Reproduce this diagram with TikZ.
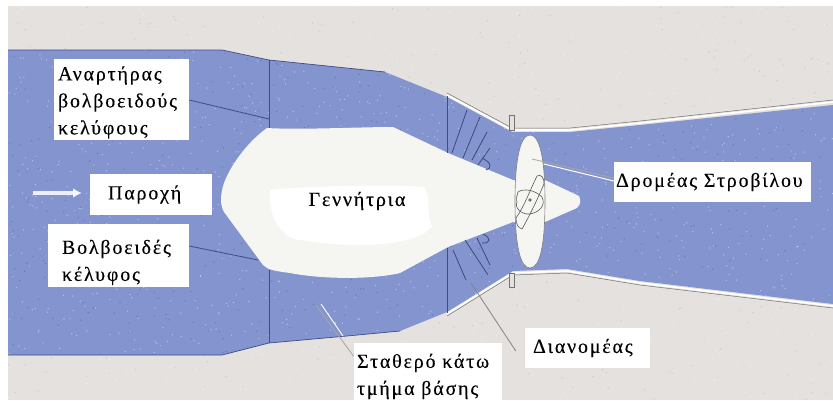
\documentclass[tikz,border=0pt]{standalone}
\usepackage{fontspec}
\usetikzlibrary{arrows.meta}
\setmainfont[LetterSpace=9,FakeBold=0.2]{Liberation Serif}
\definecolor{ductblue}{HTML}{8394CE}
\definecolor{paper}{HTML}{E4E1DE}
\definecolor{core}{HTML}{F5F5F2}
\definecolor{edge}{HTML}{3F4C86}
\definecolor{leader}{HTML}{A9A59F}
\tikzset{
  labelbox/.style={fill=white,inner ysep=0pt,align=left,font=\fontsize{20}{27}\selectfont,anchor=center},
  darkline/.style={draw=edge,line width=0.8pt},
  blade/.style={draw=edge!85!black,line width=0.7pt},
  rotorline/.style={draw=black!65,line width=0.6pt},
  lightleader/.style={draw=leader,line width=0.8pt}
}
\begin{document}
\begin{tikzpicture}[x=1pt,y=-1pt]
\useasboundingbox (0,0) rectangle (833,400);
\fill[white] (0,0) rectangle (833,400);
\fill[paper] (8,6) rectangle (833,400);
\pgfmathsetseed{11}
\foreach \i in {1,...,900}{
  \pgfmathsetmacro{\px}{8+825*rnd}
  \pgfmathsetmacro{\py}{6+394*rnd}
  \fill[white,opacity=0.4] (\px,\py) circle (0.8);
}
\foreach \i in {1,...,500}{
  \pgfmathsetmacro{\px}{8+825*rnd}
  \pgfmathsetmacro{\py}{6+394*rnd}
  \fill[black,opacity=0.08] (\px,\py) circle (0.8);
}
% duct
\def\ductpath{(8,50) -- (222,50) -- (269,60) -- (385,72) -- (447,97) -- (512,132) -- (570,132) -- (640,125) -- (833,105)
  -- (833,304) -- (640,281) -- (567,269) -- (513,271) -- (447,312) -- (400,331) -- (347,336) -- (269,343) -- (222,355) -- (8,355) -- cycle}
\fill[ductblue] \ductpath;
\begin{scope}
\clip \ductpath;
\foreach \i in {1,...,1100}{
  \pgfmathsetmacro{\px}{8+825*rnd}
  \pgfmathsetmacro{\py}{50+305*rnd}
  \fill[white,opacity=0.4] (\px,\py) circle (0.75);
}
\foreach \i in {1,...,500}{
  \pgfmathsetmacro{\px}{8+825*rnd}
  \pgfmathsetmacro{\py}{50+305*rnd}
  \fill[edge,opacity=0.35] (\px,\py) circle (0.75);
}
\end{scope}
% outline of duct
\draw[edge,line width=0.7pt] (8,50) -- (222,50) -- (269,60) -- (385,72);
\draw[edge,line width=0.7pt] (8,355) -- (222,355) -- (269,343) -- (347,336) -- (400,331);
\draw[white,line width=1.7pt] (447,95) -- (512,130) -- (570,130) -- (640,123) -- (833,102);
\draw[black!55,line width=0.5pt] (447,93) -- (512,128) -- (570,128) -- (640,121) -- (833,100);
\draw[white,line width=1.7pt] (447,314) -- (513,273) -- (567,271) -- (640,283) -- (833,306);
\draw[black!55,line width=0.5pt] (447,316) -- (513,275) -- (567,273) -- (640,285) -- (833,308);
% flanges
\draw[black!55,fill=paper,line width=0.5pt] (509,115) rectangle (514,130);
\draw[black!55,fill=paper,line width=0.5pt] (509,273) rectangle (514,287);
% generator core
\fill[core] (267,128) .. controls (250,140) and (232,162) .. (224,183)
  .. controls (220,195) and (220,205) .. (224,212)
  -- (263,265) .. controls (268,270) and (275,271) .. (290,273)
  .. controls (320,279) and (370,280) .. (400,273)
  -- (448,247) -- (513,222) -- (545,222) -- (577,208)
  .. controls (581,204) and (581,200) .. (579,196)
  -- (545,180) -- (513,180) -- (448,153) -- (393,127)
  .. controls (360,127) and (300,130) .. (267,128) -- cycle;
\fill[white] (270,190) .. controls (300,186) and (400,184) .. (424,187)
  .. controls (432,200) and (425,212) .. (432,226)
  .. controls (420,245) and (360,250) .. (300,240)
  .. controls (280,238) and (268,215) .. (270,190) -- cycle;
% vertical seams
\draw[darkline] (269,60) -- (269,128);
\draw[darkline] (269,270) -- (269,343);
\draw[darkline] (447,96) -- (447,153);
\draw[darkline] (447,248) -- (447,313);
% distributor blades
\draw[blade] (467,110) -- (452,153);
\draw[blade] (480,117) -- (463,158);
\draw[blade] (487,132) -- (472,160);
\draw[blade] (490,148) -- (478,165);
\draw[blade] (482,158) .. controls (492,163) and (492,168) .. (486,170);
\draw[blade] (453,250) -- (466,280);
\draw[blade] (465,240) -- (488,275);
\draw[blade] (477,238) -- (490,265);
\draw[blade] (483,234) .. controls (492,238) and (490,244) .. (482,243);
% rotor disc
\draw[fill=core,draw=black!50,line width=0.6pt] (530,135) .. controls (540,135) and (545,160) .. (545,201)
  .. controls (545,245) and (540,268) .. (530,268)
  .. controls (520,268) and (515,245) .. (515,201)
  .. controls (515,160) and (520,135) .. (530,135) -- cycle;
% rotor blades
\draw[rotorline] (516,218) .. controls (525,205) and (530,190) .. (537,176) .. controls (541,174) and (544,177) .. (544,184)
  .. controls (538,198) and (530,215) .. (522,229) .. controls (518,228) and (516,224) .. (516,218) -- cycle;
\draw[rotorline] (518,192) .. controls (524,188) and (535,190) .. (542,197) .. controls (546,205) and (540,212) .. (530,214)
  .. controls (522,215) and (514,208) .. (517,202) .. controls (516,198) and (517,195) .. (518,192) -- cycle;
\fill[black!55] (530,200) circle (1.8);
% text boxes
\node[labelbox,minimum width=135pt,minimum height=81pt,text width=127pt,inner xsep=4pt] (suspension) at (121.5,99.5)
  {\rule{0pt}{20pt}Αναρτήρας\\βολβοειδούς\\κελύφους};
\node[labelbox,minimum width=122pt,minimum height=41pt,text width=96pt,inner xsep=13pt] (flow) at (151,194.5) {\hspace*{5pt}Παροχή};
\node[labelbox,minimum width=141pt,minimum height=63pt,text width=113pt,inner xsep=14pt] (casing) at (118.5,255.5)
  {\rule{0pt}{28pt}Βολβοειδές\\κέλυφος};
\node[font=\fontsize{20}{22}\selectfont,inner sep=0pt] (generator) at (357,201) {Γεννήτρια};
\node[labelbox,minimum width=197pt,minimum height=40pt,text width=193pt,inner xsep=2pt] (rotor) at (712.5,182) {Δρομέας Στροβίλου};
\node[labelbox,minimum width=125pt,minimum height=40pt,text width=117pt,inner xsep=4pt] (stator) at (587.5,348) {\hspace*{4pt}Διανομέας};
\node[labelbox,minimum width=148pt,minimum height=57pt,text width=142pt,inner xsep=3pt] (base) at (428,371.5)
  {\rule{0pt}{24pt}Σταθερό κάτω\\τμήμα βάσης};
% free ends
\coordinate (suspEnd) at (269,119);
\coordinate (caseEnd) at (258,260);
\coordinate (rotorEnd) at (532,159);
\coordinate (statorEnd) at (471,283);
\coordinate (baseEnd) at (316,305);
\coordinate (flowTail) at (33,193);
\coordinate (flowHead) at (82,193);
% leaders
\draw[darkline] (suspension.east |- 0,100) -- (suspEnd);
\draw[darkline] (casing.east |- 0,246) -- (caseEnd);
\draw[lightleader] (rotor.west) ++(0,-4) -- (rotorEnd);
\draw[white,line width=1pt] (rotor.west) ++(0,-1) -- ++(-70,-17);
\draw[lightleader] (base.west) ++(0,-15) -- (baseEnd);
\draw[white,line width=0.9pt] (baseEnd) ++(5,-1) -- ++(22,32);
\draw[leader!80!black,line width=0.8pt] (stator.west) ++(-9,3) -- (statorEnd);
% flow arrow
\draw[white,opacity=0.85,line width=4pt,-{Latex[length=9pt,width=10pt]}] (flowTail) -- (flowHead);
\end{tikzpicture}
\end{document}
